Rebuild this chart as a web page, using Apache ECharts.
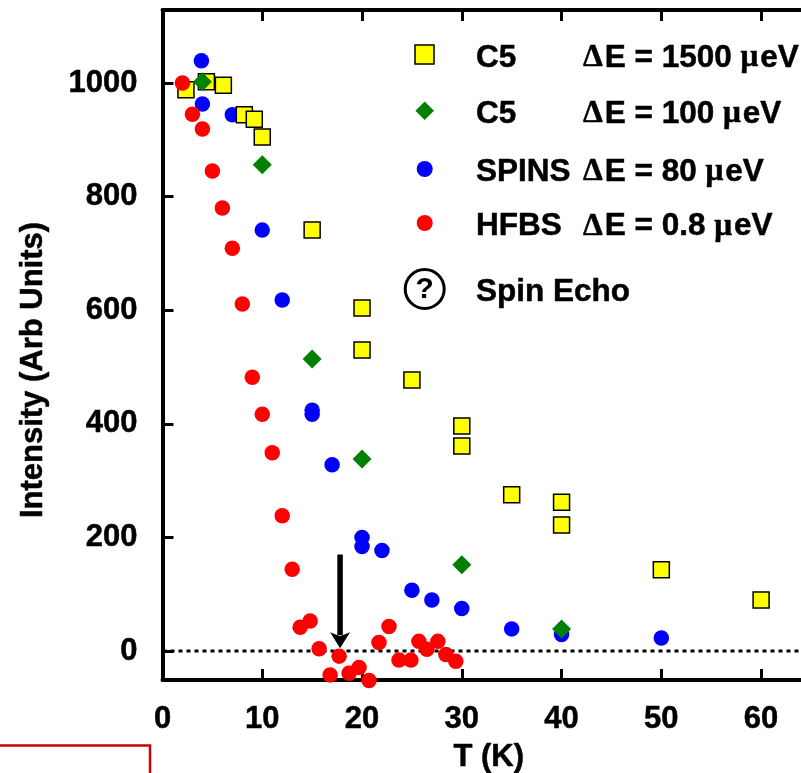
<!DOCTYPE html>
<html><head><meta charset="utf-8">
<style>html,body{margin:0;padding:0;background:#fff}#c{width:801px;height:773px}</style>
<script src="https://cdn.jsdelivr.net/npm/echarts@6/dist/echarts.min.js"></script>
</head><body><div id="c"></div>
<script>
const xTicks=[0,10,20,30,40,50,60];
const yTicks=[0,200,400,600,800,1000];
const c5High=[[2.35,988],[4.4,1002],[6.1,996],[8.2,944],[9.2,936],[10,905],[15,741],[20,604],[20,530],[25,477],[30,396],[30,361],[35,275],[40,262],[40,222],[50,143],[60,90]];
const c5Low=[[4,1002],[10,856],[15,514],[20,338],[30,152],[40,39]];
const spins=[[3.9,1039],[4,963],[7,944],[10,741],[12,618],[15,424],[15,417],[17,328],[20,200],[20,184],[22,177],[25,107],[27,90],[30,75],[35,39],[40,29],[50,23]];
const hfbs=[[2,1000],[3,945],[4,919],[5,845],[6,780],[7,709],[8,611],[9,482],[10,417],[11,349],[12,238],[13,144],[13.8,42],[14.8,53],[15.7,4],[17.7,-9],[16.8,-42],[18.7,-39],[19.7,-29],[20.7,-52],[21.7,15],[22.7,43],[23.7,-16],[24.9,-16],[25.7,17],[26.5,3],[27.6,17],[28.4,-6],[29.4,-18]];
const zeroLine=[[0,0],[64,0]];
const arrowShaft=[[17.8,170],[17.8,28]];
const arrowTip=[17.8,5];
const legendRows=[
 {name:'C5',de:'1500',y:58},
 {name:'C5',de:'100',y:114},
 {name:'SPINS',de:'80',y:172},
 {name:'HFBS',de:'0.8',y:226.5}
];
const F='"Liberation Sans",Arial,sans-serif';
const LF=31.5;
const heavy={textBorderColor:'#000',textBorderWidth:0.5};
const graphics=[];
legendRows.forEach(r=>{
  graphics.push({type:'text',x:476,y:r.y,silent:true,style:Object.assign({text:r.name,font:`bold ${LF}px ${F}`,fill:'#000',verticalAlign:'middle',stroke:'#000',lineWidth:0.5})});
  graphics.push({type:'text',x:583,y:r.y,silent:true,style:{text:`{s|Δ}{t|E = ${r.de} }{s|μ}{t|eV}`,verticalAlign:'middle',
    rich:{s:{fontFamily:'"Liberation Serif",serif',fontWeight:'bold',fontSize:LF,fill:'#000',padding:[0,2,0,0],stroke:'#000',lineWidth:0.5},t:{fontFamily:F,fontWeight:'bold',fontSize:LF,fill:'#000',stroke:'#000',lineWidth:0.5}}}});
});
graphics.push({type:'text',x:476,y:292,silent:true,style:{text:'Spin Echo',font:`bold ${LF}px ${F}`,fill:'#000',verticalAlign:'middle',stroke:'#000',lineWidth:0.5}});
graphics.push({type:'rect',shape:{x:415,y:45,width:19,height:19},silent:true,style:{fill:'#ffff00',stroke:'#000',lineWidth:1.5}});
graphics.push({type:'polygon',shape:{points:[[424.7,101.5],[434,110.7],[424.7,120],[415.4,110.7]]},silent:true,style:{fill:'#008000'}});
graphics.push({type:'circle',shape:{cx:424.7,cy:169,r:8},silent:true,style:{fill:'#0000ff'}});
graphics.push({type:'circle',shape:{cx:424.7,cy:223,r:8},silent:true,style:{fill:'#ff0000'}});
graphics.push({type:'circle',shape:{cx:424.7,cy:289,r:19.5},silent:true,style:{fill:'#fff',stroke:'#000',lineWidth:3}});
graphics.push({type:'text',x:424.7,y:290,silent:true,style:{text:'?',font:`bold 30px ${F}`,fill:'#000',align:'center',verticalAlign:'middle'}});
graphics.push({type:'polyline',shape:{points:[[0,745.5],[150,745.5],[150,773]]},silent:true,style:{fill:'none',stroke:'#cc0000',lineWidth:2.5}});

const scatter=(name,data,symbol,size,color,z,border)=>({name,type:'scatter',data,symbol,symbolSize:size,z,clip:false,
  itemStyle:Object.assign({color,opacity:1},border?{borderColor:'#000',borderWidth:1.5}:{}),emphasis:{disabled:true}});
const chart=echarts.init(document.getElementById('c'),null,{renderer:'canvas'});
chart.setOption({
  animation:false,backgroundColor:'#fff',
  grid:{left:162.5,top:10,right:0,bottom:93,containLabel:false,outerBoundsMode:'none'},
  xAxis:[
   {type:'value',min:0,max:64,position:'bottom',name:'T (K)',nameLocation:'middle',nameGap:62,
    nameTextStyle:Object.assign({fontFamily:F,fontWeight:'bold',fontSize:31,color:'#000',padding:[0,0,0,14]},heavy),
    axisLine:{onZero:false,lineStyle:{color:'#000',width:4}},
    axisTick:{inside:true,length:11,lineStyle:{color:'#000',width:3},customValues:xTicks},
    axisLabel:Object.assign({margin:24,fontFamily:F,fontWeight:'bold',fontSize:31,color:'#000',customValues:xTicks,hideOverlap:false,formatter:v=>String(v)},heavy),
    splitLine:{show:false}},
   {type:'value',min:0,max:64,position:'top',
    axisLine:{onZero:false,lineStyle:{color:'#000',width:4}},
    axisTick:{inside:true,length:11,lineStyle:{color:'#000',width:3},customValues:xTicks},
    axisLabel:{show:false},splitLine:{show:false}}
  ],
  yAxis:{type:'value',min:-51,max:1128.5,position:'left',name:'Intensity (Arb Units)',nameLocation:'middle',nameGap:114,nameRotate:90,
    nameTextStyle:Object.assign({fontFamily:F,fontWeight:'bold',fontSize:31,color:'#000',padding:[0,50,0,0]},heavy),
    axisLine:{onZero:false,lineStyle:{color:'#000',width:4}},
    axisTick:{inside:true,length:11,lineStyle:{color:'#000',width:3},customValues:yTicks},
    axisLabel:Object.assign({margin:25,padding:[8,0,0,0],verticalAlign:'middle',fontFamily:F,fontWeight:'bold',fontSize:31,color:'#000',customValues:yTicks,hideOverlap:false,formatter:v=>String(v)},heavy),
    splitLine:{show:false}},
  series:[
   {name:'Zero',type:'line',data:zeroLine,symbol:'none',z:1,lineStyle:{color:'#000',width:3,type:[4,4]},silent:true},
   {name:'Arrow',type:'line',data:arrowShaft,symbol:'none',z:1,lineStyle:{color:'#000',width:5.5,cap:'butt'},silent:true,
    markPoint:{symbol:'arrow',symbolSize:[15,16],symbolRotate:180,silent:true,label:{show:false},itemStyle:{color:'#000'},data:[{coord:arrowTip}]}},
   scatter('SPINS ΔE = 80 μeV',spins,'circle',15.5,'#0000ff',2),
   scatter('C5 ΔE = 1500 μeV',c5High,'rect',16,'#ffff00',3,true),
   scatter('C5 ΔE = 100 μeV',c5Low,'diamond',[19,19],'#008000',4),
   scatter('HFBS ΔE = 0.8 μeV',hfbs,'circle',15.5,'#ff0000',5)
  ],
  graphic:graphics
});
</script></body></html>
